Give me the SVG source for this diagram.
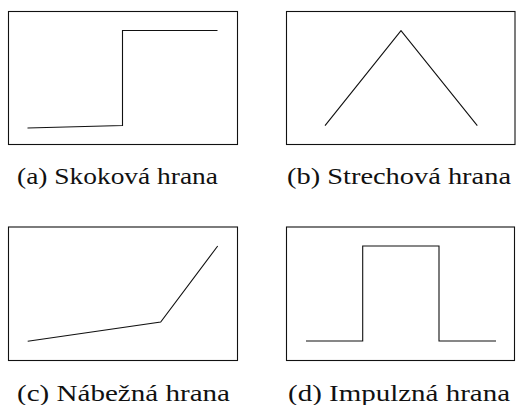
<svg xmlns="http://www.w3.org/2000/svg" width="517" height="405" viewBox="0 0 517 405">
<style>
.box{fill:none;stroke:#111;stroke-width:1.1}
.sig{fill:none;stroke:#111;stroke-width:1.1;stroke-linejoin:miter}
.cap{font-family:"Liberation Serif","Times New Roman",serif;font-size:22.5px;fill:#111}
</style>
<rect width="517" height="405" fill="#fff"/>
<g id="a">
<rect class="box" x="8.5" y="11.5" width="229" height="133"/>
<polyline class="sig" points="27.5,128 122.5,125.5 122.5,30.5 217.5,30.5"/>
<text class="cap" x="17" y="184" textLength="201" lengthAdjust="spacingAndGlyphs">(a) Skoková hrana</text>
</g>
<g id="b">
<rect class="box" x="286.5" y="11.5" width="228.5" height="133"/>
<polyline class="sig" points="325,125.7 401,30.7 477.3,125.7"/>
<text class="cap" x="287" y="184" textLength="224" lengthAdjust="spacingAndGlyphs">(b) Strechová hrana</text>
</g>
<g id="c">
<rect class="box" x="8.5" y="227" width="229" height="133.5"/>
<polyline class="sig" points="27.7,341.3 160.7,322 217.7,246"/>
<text class="cap" x="17" y="400.5" textLength="213" lengthAdjust="spacingAndGlyphs">(c) Nábežná hrana</text>
</g>
<g id="d">
<rect class="box" x="286.5" y="227" width="228" height="133.5"/>
<polyline class="sig" points="306,341 362.7,341 362.7,246 439,246 439,341 496,341"/>
<text class="cap" x="288" y="400.5" textLength="222" lengthAdjust="spacingAndGlyphs">(d) Impulzná hrana</text>
</g>
</svg>
